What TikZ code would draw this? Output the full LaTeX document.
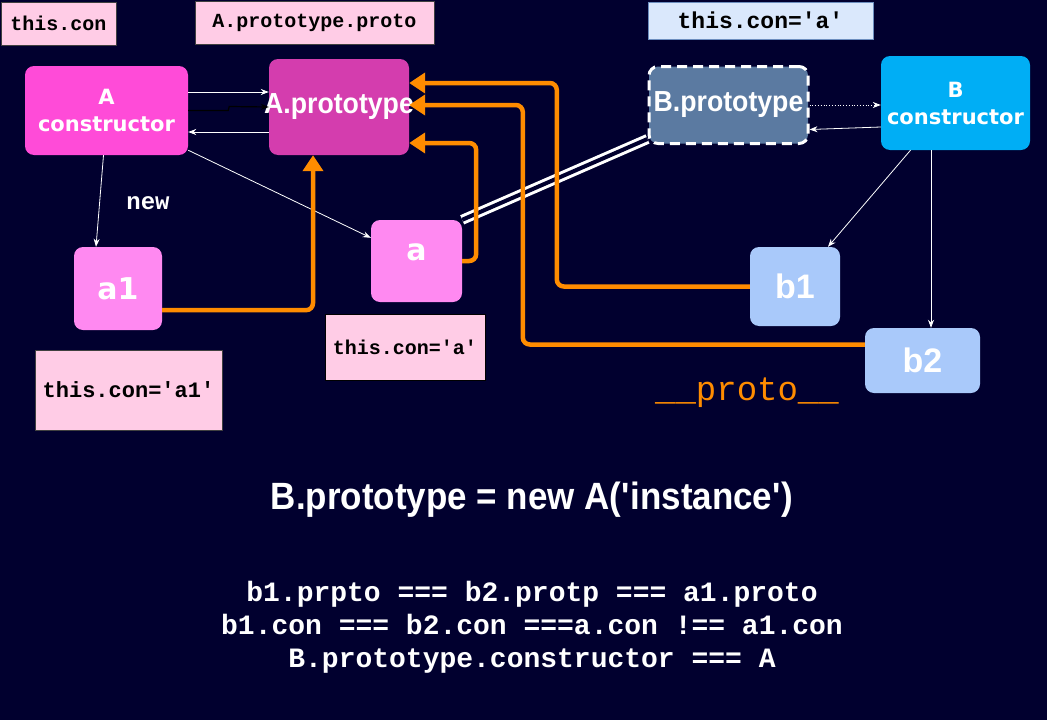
\documentclass[tikz,border=0pt]{standalone}
\usepackage{fontspec}
\setmainfont{Liberation Sans}
\newfontfamily\codefont{Liberation Mono}
\newfontfamily\boxfont{DejaVu Sans}
\newfontfamily\narrowfont[FakeStretch=0.92]{Liberation Sans}
\usetikzlibrary{arrows.meta,positioning}

\definecolor{bgnavy}{HTML}{01002F}
\definecolor{notepink}{HTML}{FFCCE6}
\definecolor{noteblue}{HTML}{DAE8FC}
\definecolor{noteblueline}{HTML}{6C8EBF}
\definecolor{aconfill}{HTML}{FF4BD8}
\definecolor{aprotofill}{HTML}{D43DAE}
\definecolor{ainstfill}{HTML}{FF89F1}
\definecolor{bprotofill}{HTML}{5B7AA1}
\definecolor{bconfill}{HTML}{00AEF5}
\definecolor{binstfill}{HTML}{A9C9FA}
\definecolor{protoorange}{HTML}{FF8C00}

\newcommand{\q}{\textquotesingle}

\begin{document}
\begin{tikzpicture}
  [x=1pt,y=-1pt,auto,
  note/.style={rectangle,draw=black!75,fill=notepink,inner sep=0pt,font=\codefont\bfseries\fontsize{20}{24}\selectfont},
  ctor/.style={rectangle,rounded corners=9pt,inner sep=0pt,text=white,align=center,font=\boxfont\bfseries\fontsize{21}{27}\selectfont},
  proto/.style={rectangle,rounded corners=9pt,inner sep=0pt,text=white,font=\narrowfont\bfseries\fontsize{29}{32}\selectfont},
  inst/.style={rectangle,rounded corners=9pt,inner sep=0pt,fill=ainstfill,text=white,font=\boxfont\bfseries\fontsize{30}{34}\selectfont},
  binst/.style={rectangle,rounded corners=9pt,inner sep=0pt,fill=binstfill,text=white,font=\bfseries\fontsize{34}{38}\selectfont},
  link/.style={draw=white!90,line width=0.8pt,-{Stealth[length=8pt,width=6pt]}},
  chain/.style={draw=protoorange,line width=4.5pt,rounded corners=7pt,-{Triangle[length=16pt,width=20pt]}}]

% background
\fill[bgnavy] (0,0) rectangle (1047,720);
\useasboundingbox (0,0) rectangle (1047,720);

% notes
\node[note,minimum width=115pt,minimum height=43pt] (thiscon) at (58.5,23.5) {this.con};
\node[note,minimum width=239pt,minimum height=43pt] (protoproto) at (314.5,22.5) {A.prototype.proto};
\node[note,draw=noteblueline,fill=noteblue,minimum width=225pt,minimum height=37pt,font=\codefont\bfseries\fontsize{23}{26}\selectfont] (topcon) at (760.5,20.5) {this.con=\q a\q};

% constructors and prototypes
\node[ctor,fill=aconfill,minimum width=163pt,minimum height=89pt] (acon) at (106.5,110.5) {A\\constructor};
\node[proto,fill=aprotofill,minimum width=140pt,minimum height=96pt] (aproto) at (339,107) {\makebox[0pt]{A.prototype}};
\node[proto,fill=bprotofill,draw=white,line width=3pt,dash pattern=on 10pt off 6pt,minimum width=159pt,minimum height=77pt] (bproto) at (728.5,105) {\makebox[0pt]{B.prototype}};
\node[ctor,fill=bconfill,minimum width=149pt,minimum height=94pt] (bcon) at (955.5,103) {B\\constructor};

% instances
\node[inst,minimum width=88pt,minimum height=83pt] (a1) at (118,288.5) {a1};
\node[inst,minimum width=91pt,minimum height=82pt,text depth=18pt] (a) at (416.5,261) {a};
\node[binst,minimum width=90pt,minimum height=79pt] (b1) at (795,286.5) {b1};
\node[binst,minimum width=115pt,minimum height=65pt] (b2) at (922.5,360.5) {b2};

\node[note,minimum width=187pt,minimum height=80pt,font=\codefont\bfseries\fontsize{22}{26}\selectfont] (cona1) at (128.5,390) {this.con=\q a1\q};
\node[note,draw=black,minimum width=160pt,minimum height=66pt] (cona) at (405,347) {this.con=\q a\q};

% labels
\node[text=white,font=\codefont\bfseries\fontsize{24}{28}\selectfont] (newlabel) at (148,203) {new};
\node[text=protoorange,font=\codefont\fontsize{34}{38}\selectfont] (protolabel) at (747,393) {\_\_proto\_\_};
\node[text=white,font=\narrowfont\bfseries\fontsize{38}{42}\selectfont] (title) at (532,500) {B.prototype = new A(\q instance\q)};
\node[text=white,align=center,font=\codefont\bfseries\fontsize{28}{33}\selectfont] (rules) at (532,627)
  {b1.prpto === b2.protp === a1.proto\\b1.con === b2.con ===a.con !== a1.con\\B.prototype.constructor === A};

% constructor links
\draw[link] ([yshift=18.5pt]acon.east) -- ([yshift=15pt]aproto.west);
\draw[draw=black,line width=1.2pt,-{Stealth[length=8pt,width=6pt]}] (acon.east) -- ++(40,0) -- ++(1,-4) -- (aproto.west);
\draw[link] ([yshift=-25pt]aproto.west) -- ([yshift=-21.5pt]acon.east);
\draw[link] ([xshift=-3pt]acon.south) -- ([xshift=-22pt]a1.north);
\draw[link] ([yshift=5pt]acon.south east) -- ([yshift=-18pt]a.north west);

\draw[link,dotted] (bproto.east) -- (bproto.east -| bcon.west);
\draw[link] ([yshift=-24pt]bcon.west) -- ([yshift=-24.5pt]bproto.east);
\draw[link] ([xshift=-45pt]bcon.south) -- ([xshift=33pt]b1.north);
\draw[link] ([xshift=-24.5pt]bcon.south) -- ([xshift=8.5pt]b2.north);

% B.prototype is a
\draw[draw=white,line width=3pt,double=bgnavy,double distance=4pt] ([yshift=6pt]bproto.south west) -- (a.north east);

% proto chains
\draw[chain] ([yshift=20pt]a1.south east) -| ([xshift=-26pt]aproto.south);
\draw[chain] (a.east) -- ++(14,0) |- ([yshift=-36pt]aproto.east);
\draw[chain] (b1.west) -- ++(-193,0) |- ([yshift=24pt]aproto.east);
\draw[chain] ([yshift=16pt]b2.west) -- ++(-342,0) |- ([yshift=2pt]aproto.east);

\end{tikzpicture}
\end{document}
